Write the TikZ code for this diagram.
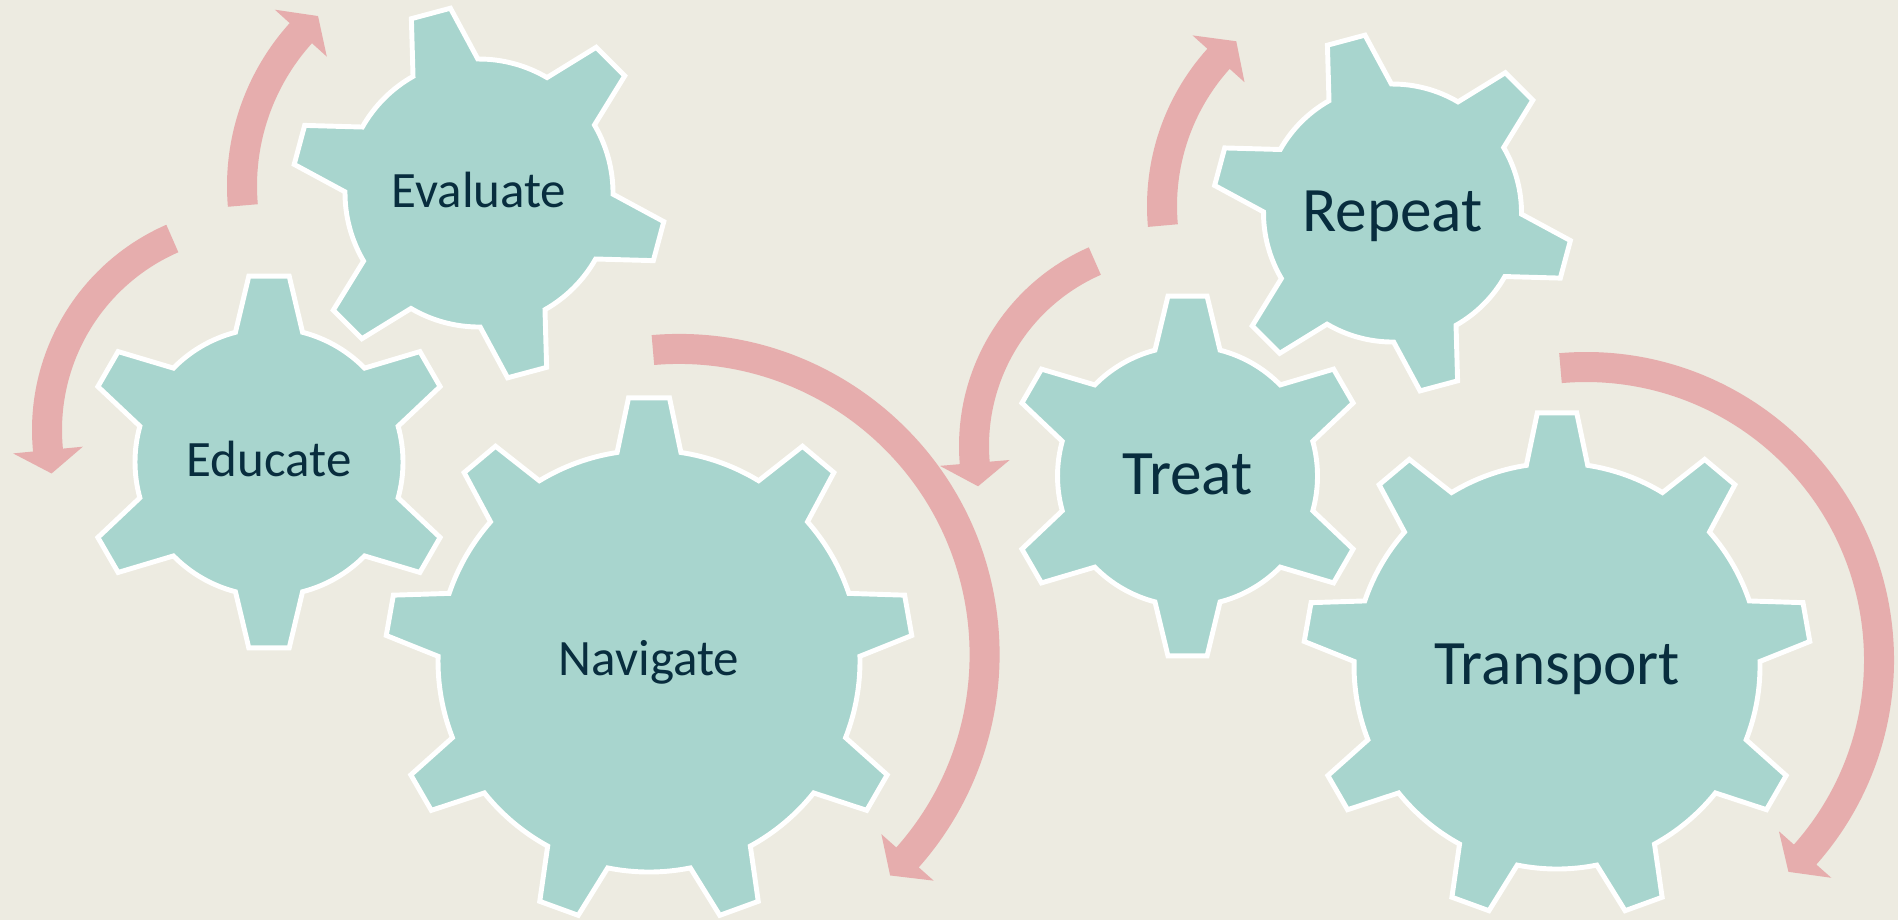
\documentclass[tikz,border=0pt]{standalone}
\usepackage{fontspec}
\setmainfont{Carlito}
\usepackage{xcolor}
\usepackage{tikz}
\usetikzlibrary{positioning}

\definecolor{paper}{RGB}{237,235,225}
\definecolor{gearfill}{RGB}{168,213,206}
\definecolor{turnpink}{RGB}{230,173,173}
\definecolor{inkblue}{RGB}{8,45,62}

% gear: center, outer r, inner r, teeth, turn, top half-angle, base half-angle
\newcommand{\drawgear}[7]{%
  \begin{scope}[shift={#1}]
    \filldraw[gearbody] ({#5-#7}:#3)
      \foreach \k in {1,...,#4}{
        -- ({#5+(\k-1)*360/#4-#6}:#2)
        -- ({#5+(\k-1)*360/#4+#6}:#2)
        -- ({#5+(\k-1)*360/#4+#7}:#3)
        arc[start angle={#5+(\k-1)*360/#4+#7}, end angle={#5+\k*360/#4-#7}, radius=#3]
      } -- cycle;
  \end{scope}}

% turning arrow: center, radius, start angle, end angle, tip angle
\newcommand{\drawturn}[5]{%
  \begin{scope}[shift={#1}]
    \fill[turnarrow] (#3:{#2+15}) arc[start angle=#3, end angle=#4, radius={#2+15}]
      -- (#4:{#2+35}) -- (#5:#2) -- (#4:{#2-35}) -- (#4:{#2-15})
      arc[start angle=#4, end angle=#3, radius={#2-15}] -- cycle;
  \end{scope}}

\begin{document}
\begin{tikzpicture}[
            x=0.01cm, y=0.01cm,
            gearbody/.style={fill=gearfill, draw=white, line width=1.4pt, line join=miter},
            turnarrow/.style={fill=turnpink},
            smalltext/.style={text=inkblue, anchor=base, yshift=-1.4mm, font=\fontsize{14.5}{17}\selectfont},
            bigtext/.style={text=inkblue, anchor=base, yshift=-1.8mm, font=\fontsize{18}{21}\selectfont}
        ]

        \fill[paper] (0,0) rectangle (1898,-920);
        \useasboundingbox (0,0) rectangle (1898,-920);

        % arrows
        \drawturn{(256,-430)}{209}{113.6}{185.5}{192}
        \drawturn{(470,-186)}{228}{184.9}{137.9}{131.8}
        \drawturn{(679,-654.5)}{305.6}{94.9}{-41.6}{-46.3}
        \drawturn{(1176,-446)}{202}{113.7}{184.8}{191.5}
        \drawturn{(1382,-206)}{220}{185.1}{138}{131.5}
        \drawturn{(1586,-660)}{293}{95}{-41.6}{-46.3}

        % left gears
        \drawgear{(649,-661)}{264}{211}{9}{90}{4.45}{8.7}
        \drawgear{(269,-462)}{187}{134}{6}{90}{6.2}{14.5}
        \drawgear{(479,-193)}{187}{134}{6}{105}{6.2}{14.5}

        % right gears
        \drawgear{(1557,-666)}{254}{203}{9}{90}{4.45}{8.7}
        \drawgear{(1187.5,-476)}{181}{130}{6}{90}{6.2}{14.5}
        \drawgear{(1392.5,-213)}{180}{129}{6}{105}{6.2}{14.5}

        \node[smalltext] (navigate) at (649,-661) {Navigate};
        \node[smalltext] (educate) at (269,-462) {Educate};
        \node[smalltext] (evaluate) at (479,-193) {Evaluate};
        \node[bigtext] (transport) at (1557,-666) {Transport};
        \node[bigtext] (treat) at (1187.5,-476) {Treat};
        \node[bigtext] (repeat) at (1392.5,-213) {Repeat};

    \end{tikzpicture}
\end{document}
